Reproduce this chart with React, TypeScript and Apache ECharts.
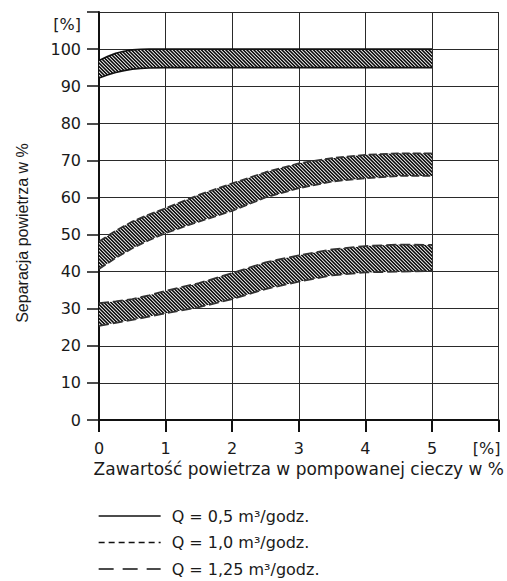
import React, { useEffect, useRef } from 'react';
import * as echarts from 'echarts';

// ---- data ----
const q05X = [0, 0.125, 0.25, 0.375, 0.5, 0.625, 0.75, 1, 5];
const q05Upper = [96.9, 98.0, 98.9, 99.4, 99.8, 99.95, 100, 100, 100];
const q05Lower = [92.2, 93.0, 93.7, 94.2, 94.6, 94.8, 94.9, 95, 95];

const bandX = [0, 0.25, 0.5, 0.75, 1, 1.5, 2, 2.5, 3, 3.5, 4, 4.5, 5];

const q10Upper = [48.1, 51.0, 53.5, 55.4, 57.1, 60.7, 63.8, 66.8, 69.2, 70.6, 71.5, 71.9, 71.9];
const q10Lower = [40.7, 43.7, 46.3, 48.5, 50.4, 53.5, 56.4, 60.0, 62.5, 64.3, 65.2, 65.8, 65.8];

const q125Upper = [31.5, 32.0, 32.6, 33.6, 34.8, 36.9, 39.6, 42.5, 44.4, 46.0, 46.9, 47.3, 47.2];
const q125Lower = [25.4, 26.2, 27.0, 27.9, 28.8, 30.4, 32.6, 35.3, 37.3, 39.0, 39.8, 40.0, 40.2];

const seriesNames = ['Q = 0,5 m³/godz.', 'Q = 1,0 m³/godz.', 'Q = 1,25 m³/godz.'];

const xLabelValues = [0, 1, 2, 3, 4, 5];
const xTickValues = [0, 1, 2, 3, 4, 5, 6];
const yLabelValues = [0, 10, 20, 30, 40, 50, 60, 70, 80, 90, 100];
const unitLabel = '[%]';
const xUnitLabelValue = 5.82;
const yUnitLabelValue = 106.5;

const xTitle = 'Zawartość powietrza w pompowanej cieczy w %';
const yTitle = 'Separacja powietrza w %';

// ---- styles ----
const FONT = '"DejaVu Sans", sans-serif';
const TEXT = '#1a1a1a';

function makeHatchCanvas(): HTMLCanvasElement {
  const size = 7; // two stripes per tile -> period 3.5px
  const period = 3.5;
  const c = document.createElement('canvas');
  c.width = size;
  c.height = size;
  const ctx = c.getContext('2d')!;
  const img = ctx.createImageData(size, size);
  const ss = 4;
  for (let y = 0; y < size; y++) {
    for (let x = 0; x < size; x++) {
      let cov = 0;
      for (let j = 0; j < ss; j++) {
        for (let i = 0; i < ss; i++) {
          const u = x + (i + 0.5) / ss;
          const v = y + (j + 0.5) / ss;
          let d = (u - v) % period;
          if (d < 0) d += period;
          if (d < period * 0.58) cov++;
        }
      }
      const f = cov / (ss * ss);
      const g = Math.round(255 - f * (255 - 10));
      const k = (y * size + x) * 4;
      img.data[k] = g;
      img.data[k + 1] = g;
      img.data[k + 2] = g;
      img.data[k + 3] = 255;
    }
  }
  ctx.putImageData(img, 0, 0);
  return c;
}

export default function App() {
  const ref = useRef<HTMLDivElement>(null);

  useEffect(() => {
    document.body.style.margin = '0';
    if (!ref.current) return;
    const chart = echarts.init(ref.current, undefined, { renderer: 'svg' });

    const hatch = {
      image: makeHatchCanvas(),
      repeat: 'repeat',
      imageWidth: 7,
      imageHeight: 7,
    };

    const bands = [
      { x: q05X, upper: q05Upper, lower: q05Lower, line: { color: '#111', width: 1.6, type: 'solid' as any } },
      { x: bandX, upper: q10Upper, lower: q10Lower, line: { color: '#333', width: 1.8, type: [8, 3] as any } },
      { x: bandX, upper: q125Upper, lower: q125Lower, line: { color: '#333', width: 1.8, type: [10, 4] as any } },
    ];

    const series: any[] = [];
    // edge lines first (so the legend takes its icon from them)
    bands.forEach((b, i) => {
      [b.lower, b.upper].forEach((vals) => {
        series.push({
          name: seriesNames[i],
          type: 'line',
          symbol: 'none',
          data: b.x.map((x, k) => [x, vals[k]]),
          lineStyle: b.line,
          z: 4,
        });
      });
    });
    // hatched fills between the edges
    bands.forEach((b, i) => {
      series.push({
        name: 'fill' + i,
        type: 'custom',
        silent: true,
        z: 3,
        data: b.x.map((x, k) => [x, b.lower[k], b.upper[k]]),
        encode: { x: 0, y: [1, 2] },
        renderItem: (params: any, api: any) => {
          if (params.dataIndex !== 0) return null;
          const top = b.x.map((x, k) => api.coord([x, b.upper[k]]));
          const bottom = b.x.map((x, k) => api.coord([x, b.lower[k]])).reverse();
          return {
            type: 'polygon',
            shape: { points: top.concat(bottom) },
            style: { fill: hatch as any, stroke: null },
          };
        },
      });
    });

    const legendLines = [
      { type: 'solid', width: 1.3 },
      { type: [6, 4], width: 1.3 },
      { type: [15, 9], width: 1.3 },
    ];

    chart.setOption({
      animation: false,
      grid: { left: 99, right: 1, top: 12, bottom: 161, containLabel: false },
      xAxis: {
        type: 'value',
        min: 0,
        max: 6,
        interval: 0.5,
        axisLine: { show: true, onZero: false, lineStyle: { color: '#111', width: 2 } },
        axisTick: {
          show: true,
          length: 12,
          customValues: xTickValues,
          lineStyle: { color: '#111', width: 2 },
        },
        axisLabel: {
          customValues: [...xLabelValues, xUnitLabelValue],
          formatter: (v: number) => (v > 5.5 ? unitLabel : String(v)),
          fontFamily: FONT,
          fontSize: 16,
          color: TEXT,
          margin: 20,
        },
        splitLine: { show: true, lineStyle: { color: '#2a2a2a', width: 1 } },
        name: xTitle,
        nameLocation: 'middle',
        nameGap: 31,
        nameTextStyle: { fontFamily: FONT, fontSize: 17, color: TEXT },
      },
      yAxis: {
        type: 'value',
        min: 0,
        max: 110,
        interval: 10,
        axisLine: { show: true, onZero: false, lineStyle: { color: '#111', width: 2 } },
        axisTick: { show: true, length: 12, lineStyle: { color: '#111', width: 1.5 } },
        axisLabel: {
          customValues: [...yLabelValues, yUnitLabelValue],
          formatter: (v: number) => (v > 100 ? unitLabel : String(v)),
          fontFamily: FONT,
          fontSize: 16,
          color: TEXT,
          margin: 18,
        },
        splitLine: { show: true, lineStyle: { color: '#2a2a2a', width: 1 } },
      },
      legend: {
        orient: 'vertical',
        left: 98,
        top: 508,
        padding: 0,
        itemWidth: 62,
        itemHeight: 16,
        itemGap: 10.5,
        selectedMode: false,
        data: seriesNames.map((n, i) => ({
          name: n,
          itemStyle: { opacity: 0 },
          lineStyle: { color: '#111', width: legendLines[i].width, type: legendLines[i].type as any },
        })),
        textStyle: { fontFamily: FONT, fontSize: 16, lineHeight: 16, color: TEXT, padding: [0, 0, 0, 6] },
      },
      graphic: [
        {
          type: 'text',
          x: 22,
          y: 233,
          rotation: Math.PI / 2,
          style: {
            text: yTitle,
            fontFamily: '"Liberation Sans", Arial, sans-serif',
            fontSize: 16,
            fill: TEXT,
            align: 'center',
            verticalAlign: 'middle',
          },
        },
      ],
      series,
    });

    return () => {
      chart.dispose();
    };
  }, []);

  return <div ref={ref} style={{ width: 507, height: 581 }} />;
}
